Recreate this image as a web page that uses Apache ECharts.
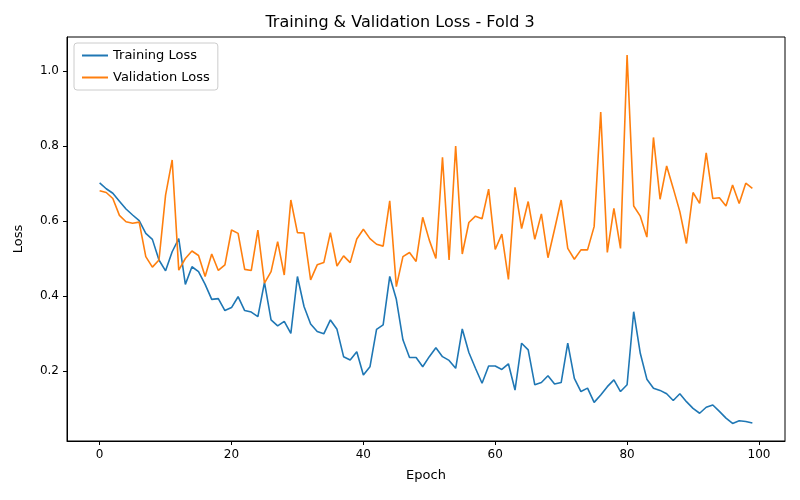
<!DOCTYPE html>
<html>
<head>
<meta charset="utf-8">
<script src="https://cdn.jsdelivr.net/npm/echarts@6/dist/echarts.min.js"></script>
<style>html,body{margin:0;padding:0;background:#fff}#c{width:800px;height:500px}</style>
</head>
<body>
<div id="c"></div>
<script>
const trainLoss = [0.702,0.686,0.674,0.653,0.632,0.616,0.601,0.567,0.551,0.496,
  0.467,0.518,0.553,0.431,0.478,0.465,0.431,0.391,0.393,0.361,
  0.369,0.398,0.361,0.357,0.345,0.436,0.336,0.320,0.332,0.300,
  0.452,0.372,0.325,0.305,0.299,0.336,0.311,0.238,0.229,0.251,
  0.189,0.211,0.311,0.323,0.452,0.391,0.283,0.236,0.236,0.211,
  0.238,0.262,0.238,0.228,0.207,0.312,0.249,0.207,0.167,0.213,
  0.213,0.204,0.219,0.149,0.274,0.256,0.163,0.169,0.187,0.165,
  0.169,0.274,0.180,0.145,0.154,0.116,0.136,0.158,0.176,0.145,
  0.163,0.358,0.247,0.178,0.154,0.148,0.139,0.121,0.139,0.118,
  0.100,0.087,0.103,0.109,0.092,0.074,0.060,0.067,0.065,0.061];
const valLoss = [0.681,0.676,0.660,0.615,0.598,0.594,0.597,0.505,0.477,0.496,
  0.669,0.763,0.469,0.500,0.520,0.508,0.452,0.512,0.468,0.483,
  0.576,0.567,0.471,0.468,0.576,0.434,0.465,0.545,0.456,0.656,
  0.569,0.568,0.443,0.483,0.489,0.569,0.480,0.507,0.489,0.552,
  0.578,0.553,0.538,0.533,0.654,0.425,0.505,0.516,0.492,0.610,
  0.549,0.500,0.770,0.496,0.800,0.512,0.596,0.613,0.606,0.685,
  0.524,0.565,0.444,0.690,0.580,0.652,0.551,0.619,0.502,0.578,
  0.656,0.527,0.498,0.523,0.523,0.585,0.891,0.516,0.634,0.527,
  1.043,0.640,0.613,0.557,0.823,0.658,0.747,0.687,0.625,0.540,
  0.676,0.647,0.782,0.660,0.662,0.640,0.696,0.647,0.701,0.687];
const xTicks = [0, 20, 40, 60, 80, 100];
const yTicks = [0.2, 0.4, 0.6, 0.8, 1.0];

const pairs = arr => arr.map((v, i) => [i, v]);
const font = 'DejaVu Sans';
const chart = echarts.init(document.getElementById('c'));
chart.setOption({
  animation: false,
  textStyle: { fontFamily: font },
  title: { text: 'Training & Validation Loss - Fold 3', left: 'center', top: 10,
    textStyle: { fontFamily: font, fontSize: 16, fontWeight: 'normal', color: '#000' } },
  grid: { left: 67, right: 15, top: 37, bottom: 59, show: true, borderColor: '#000', borderWidth: 1 },
  legend: {
    left: 74, top: 43, orient: 'vertical', itemWidth: 26, itemHeight: 2, itemGap: 9,
    padding: [6, 8], borderColor: '#ccc', borderWidth: 1, borderRadius: 3,
    icon: 'rect', textStyle: { fontFamily: font, fontSize: 13, color: '#000' },
    data: ['Training Loss', 'Validation Loss']
  },
  xAxis: {
    type: 'value', min: -4.95, max: 103.95, name: 'Epoch', nameLocation: 'middle', nameGap: 28,
    nameTextStyle: { fontFamily: font, fontSize: 13, color: '#000' },
    axisLine: { onZero: false, lineStyle: { color: '#000' } },
    axisTick: { customValues: xTicks, length: 4, lineStyle: { color: '#000' } },
    axisLabel: { customValues: xTicks, color: '#000', fontSize: 12, margin: 8 },
    splitLine: { show: false }
  },
  yAxis: {
    type: 'value', min: 0.013, max: 1.091, name: 'Loss', nameLocation: 'middle', nameGap: 42,
    nameTextStyle: { fontFamily: font, fontSize: 13, color: '#000' },
    axisLine: { show: true, onZero: false, lineStyle: { color: '#000' } },
    axisTick: { show: true, customValues: yTicks, length: 4, lineStyle: { color: '#000' } },
    axisLabel: { customValues: yTicks, color: '#000', fontSize: 12, formatter: v => v.toFixed(1) },
    splitLine: { show: false }
  },
  series: [
    { name: 'Training Loss', type: 'line', data: pairs(trainLoss), showSymbol: false,
      lineStyle: { width: 1.6, color: '#1f77b4' }, itemStyle: { color: '#1f77b4' } },
    { name: 'Validation Loss', type: 'line', data: pairs(valLoss), showSymbol: false,
      lineStyle: { width: 1.6, color: '#ff7f0e' }, itemStyle: { color: '#ff7f0e' } }
  ]
});
</script>
</body>
</html>
